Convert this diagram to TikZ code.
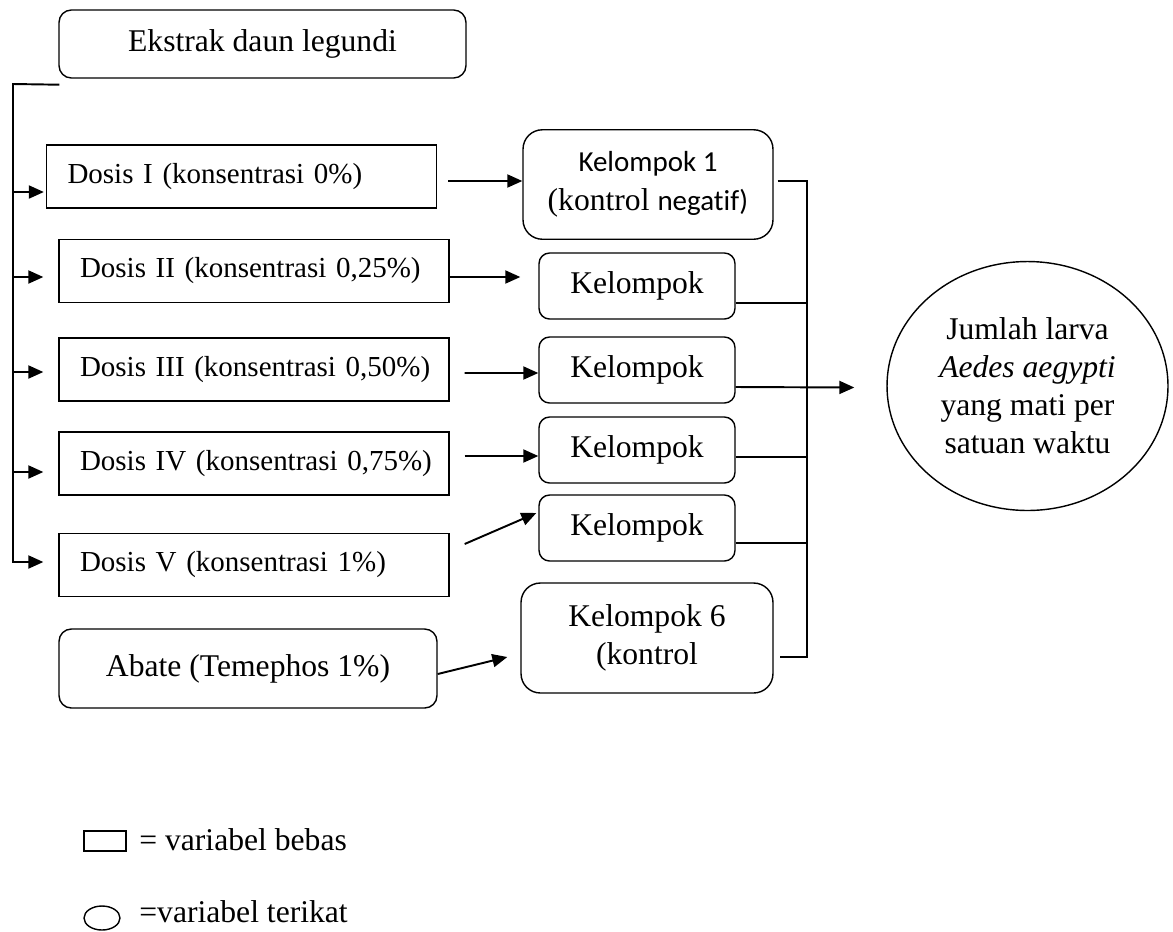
\documentclass[tikz,border=0pt]{standalone}
\usepackage{fontspec}
\setmainfont{Liberation Serif}
\newfontfamily\calibri[Ligatures=NoCommon]{Carlito}
\usetikzlibrary{arrows.meta, shapes.geometric, calc}
\newcommand{\kal}{\calibri\fontsize{16.5}{22}\selectfont}

\begin{document}
\begin{tikzpicture}[
    x=0.02cm, y=-0.02cm,
    font=\fontsize{18}{21.6}\selectfont,
    dosis/.style={
      rectangle, draw, line width=0.8pt,
      align=left, text width=6.96cm, inner xsep=0.42cm,
      minimum height=1.26cm, font=\fontsize{16.5}{20}\selectfont
    },
    bahan/.style={
      rectangle, rounded corners=7pt, draw, line width=0.8pt,
      align=center
    },
    kelompok/.style={
      rectangle, rounded corners=6pt, draw, line width=0.8pt,
      minimum width=3.92cm, minimum height=1.32cm
    },
    kontrol/.style={
      rectangle, rounded corners=11pt, draw, line width=0.8pt,
      align=center, font=\fontsize{18}{22}\selectfont,
      minimum width=5cm, minimum height=2.19cm
    },
    hasil/.style={
      ellipse, draw, line width=0.8pt, align=center,
      minimum width=5.62cm, minimum height=4.98cm, inner sep=0pt
    },
    ket/.style={anchor=west, inner sep=0pt},
    line/.style={line width=0.8pt},
    arr/.style={-{Triangle[length=0.3cm, width=0.26cm]}, line width=1.1pt}
  ]
  \useasboundingbox (0,0) rectangle (1173,931);
  % Bahan uji
  \node[bahan, minimum width=8.14cm, minimum height=1.36cm] (ekstrak) at (262.5,44) {Ekstrak daun legundi};
  \node[dosis] (d1) at (241.5,176.5) {\mbox{Dosis I (konsentrasi 0\%)}};
  \node[dosis] (d2) at (254,271)   {\mbox{Dosis II (konsentrasi 0,25\%)}};
  \node[dosis] (d3) at (254,369.5) {\mbox{Dosis III (konsentrasi 0,50\%)}};
  \node[dosis] (d4) at (254,463.5) {\mbox{Dosis IV (konsentrasi 0,75\%)}};
  \node[dosis] (d5) at (254,565)   {\mbox{Dosis V (konsentrasi 1\%)}};
  \node[bahan, minimum width=7.56cm, minimum height=1.58cm] (abate) at (248,668.5) {Abate (Temephos 1\%)};
  % Kelompok perlakuan
  \node[kontrol] (k1) at (648,184.5) {{\kal Kelompok 1}\\(kontrol {\kal negatif)}};
  \node[kelompok] (k2) at (637,286) {Kelompok};
  \node[kelompok] (k3) at (637,370) {Kelompok};
  \node[kelompok] (k4) at (637,450) {Kelompok};
  \node[kelompok] (k5) at (637,528) {Kelompok};
  \node[kontrol, minimum width=5.04cm, minimum height=2.2cm] (k6) at (647,638) {Kelompok 6\\(kontrol};
  % Variabel terikat
  \node[hasil] (out) at (1027.5,386) {Jumlah larva\\\textit{Aedes aegypti}\\yang mati per\\satuan waktu};
  % Keterangan
  \node[rectangle, draw, line width=0.8pt, minimum width=0.84cm, minimum height=0.4cm, inner sep=0pt] (kotak) at (105,841) {};
  \node[ket] (ketbebas) at (139,840) {= variabel bebas};
  \node[ellipse, draw, line width=0.8pt, minimum width=0.72cm, minimum height=0.48cm, inner sep=0pt] (elips) at (102,918) {};
  \node[ket] (ketterikat) at (139,912) {=variabel terikat};
  % Cabang kiri
  \coordinate (busL) at (13,84);
  \draw[arr] ($(ekstrak.south west)+(1,6)$) -- (busL) |- ($(d5.west)+(-15,-3)$);
  \path ($(d1.west)+(-2,15.5)$) coordinate (t1);
  \draw[arr] (t1 -| busL) -- (t1);
  \foreach \n/\off in {2/6, 3/2.5, 4/8.5} {
    \path ($(d\n.west)+(-15,\off)$) coordinate (t\n);
    \draw[arr] (t\n -| busL) -- (t\n);
  }
  % Dosis ke kelompok
  \draw[arr] ($(d1.east)+(11,4.5)$) -- ($(k1.west)+(0,-3.5)$);
  \draw[arr] ($(d2.east)+(0,6)$) -- ($(k2.west)+(-18,-9)$);
  \draw[arr] ($(d3.east)+(15,3.5)$) -- ($(k3.west)+(0,3)$);
  \draw[arr] ($(d4.east)+(15,-7.5)$) -- ($(k4.west)+(0,6)$);
  \draw[arr] ($(d5.east)+(15,-21)$) -- ($(k5.west)+(-2,-15)$);
  \draw[arr] ($(abate.east)+(0,5.5)$) -- ($(k6.west)+(-13,19)$);
  % Kelompok ke variabel terikat
  \coordinate (busR) at (807,181);
  \draw[line] ($(k1.east)+(4,-3.5)$) -- (busR) |- ($(k6.east)+(6,19)$);
  \foreach \n/\off in {2/17, 4/7, 5/15} {
    \path ($(k\n.east)+(0,\off)$) coordinate (s\n);
    \draw[line] (s\n) -- (s\n -| busR);
  }
  \draw[arr] ($(k3.east)+(0,17)$) -- ($(out.west)+(-32,1.5)$);
\end{tikzpicture}
\end{document}
